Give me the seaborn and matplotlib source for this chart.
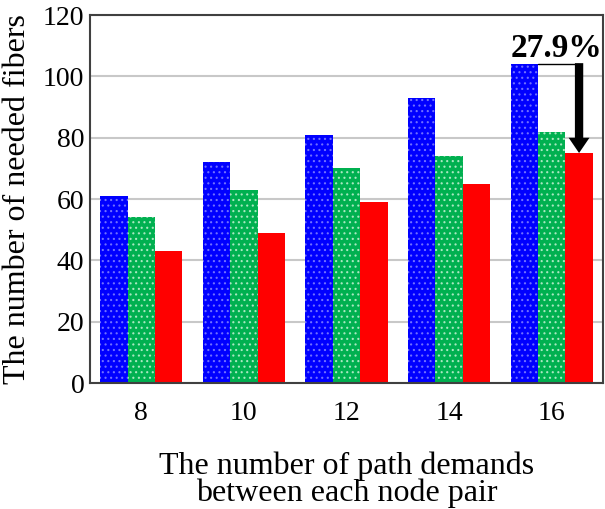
import matplotlib
matplotlib.use("Agg")
import matplotlib.pyplot as plt
import seaborn as sns
import pandas as pd

# Number of path demands per node pair
demands = ["8", "10", "12", "14", "16"]
# Needed fibers for each scheme
scheme_a = [61, 72, 81, 93, 104]
scheme_b = [54, 63, 70, 74, 82]
scheme_c = [43, 49, 59, 65, 75]
scheme_names = ["Scheme A", "Scheme B", "Scheme C"]
y_ticks = [0, 20, 40, 60, 80, 100, 120]

sns.set_theme(style="white")
plt.rcParams["font.family"] = ["Liberation Serif", "DejaVu Serif"]
plt.rcParams["hatch.linewidth"] = 0.8
plt.rcParams["text.color"] = "black"
plt.rcParams["axes.labelcolor"] = "black"
plt.rcParams["xtick.color"] = "black"
plt.rcParams["ytick.color"] = "black"

rows = []
for name, vals in zip(scheme_names, [scheme_a, scheme_b, scheme_c]):
    for d, v in zip(demands, vals):
        rows.append({"demand": d, "fibers": v, "scheme": name})
df = pd.DataFrame(rows)

fig = plt.figure(figsize=(6.05, 5.09), dpi=100)
ax = fig.add_axes([0.1488, 0.2475, 0.8479, 0.723])

colors = ["#0000ff", "#00b050", "#ff0000"]
sns.barplot(data=df, x="demand", y="fibers", hue="scheme", order=demands,
            hue_order=scheme_names, palette=colors, width=0.8, gap=0,
            legend=False, ax=ax, saturation=1)

hatch_styles = [("...", "#7070ff"), ("...", "#a8e8c0"), ("", "#ff0000")]
for cont, (h, hc) in zip(ax.containers, hatch_styles):
    for p in cont:
        p.set_hatch(h)
        p.set_edgecolor(hc)
        p.set_linewidth(0)

ax.set_ylim(0, 120)
ax.set_xlim(-0.5, 4.5)
ax.set_yticks(y_ticks)
ax.set_yticklabels([str(t) for t in y_ticks], fontsize=20)
ax.tick_params(axis="x", labelsize=20, length=0, pad=13)
ax.tick_params(axis="y", length=0, pad=4)
ax.yaxis.grid(True, color="#c8c8c8", linewidth=1.5)
ax.set_axisbelow(True)
for s in ax.spines.values():
    s.set_visible(True)
    s.set_color("#404040")
    s.set_linewidth(1.5)

ax.set_xlabel("The number of path demands\nbetween each node pair",
              fontsize=23, linespacing=0.9, labelpad=18)
ax.set_ylabel("The number of needed fibers", fontsize=23, labelpad=8)

# Reduction annotation on the last group
blue_bar = ax.containers[0][-1]
red_bar = ax.containers[2][-1]
top = scheme_a[-1]
low = scheme_c[-1]
x_blue_right = blue_bar.get_x() + blue_bar.get_width()
x_arrow = red_bar.get_x() + red_bar.get_width() / 2
ax.plot([x_blue_right, x_arrow], [top, top], color="black", linewidth=1, zorder=4)
ax.annotate("", xy=(x_arrow, low), xytext=(x_arrow, top + 0.3),
            arrowprops=dict(width=6, headwidth=15, headlength=11,
                            facecolor="black", edgecolor="none",
                            shrink=0),
            zorder=5)
pct = (top - low) / top * 100
ax.text((blue_bar.get_x() + blue_bar.get_width() / 2 + x_arrow) / 2 + 0.05, top + 2.2,
        f"{pct:.1f}%", fontsize=24, fontweight="bold", ha="center", va="baseline",
        clip_on=False)

fig.savefig("out.png", dpi=100)
